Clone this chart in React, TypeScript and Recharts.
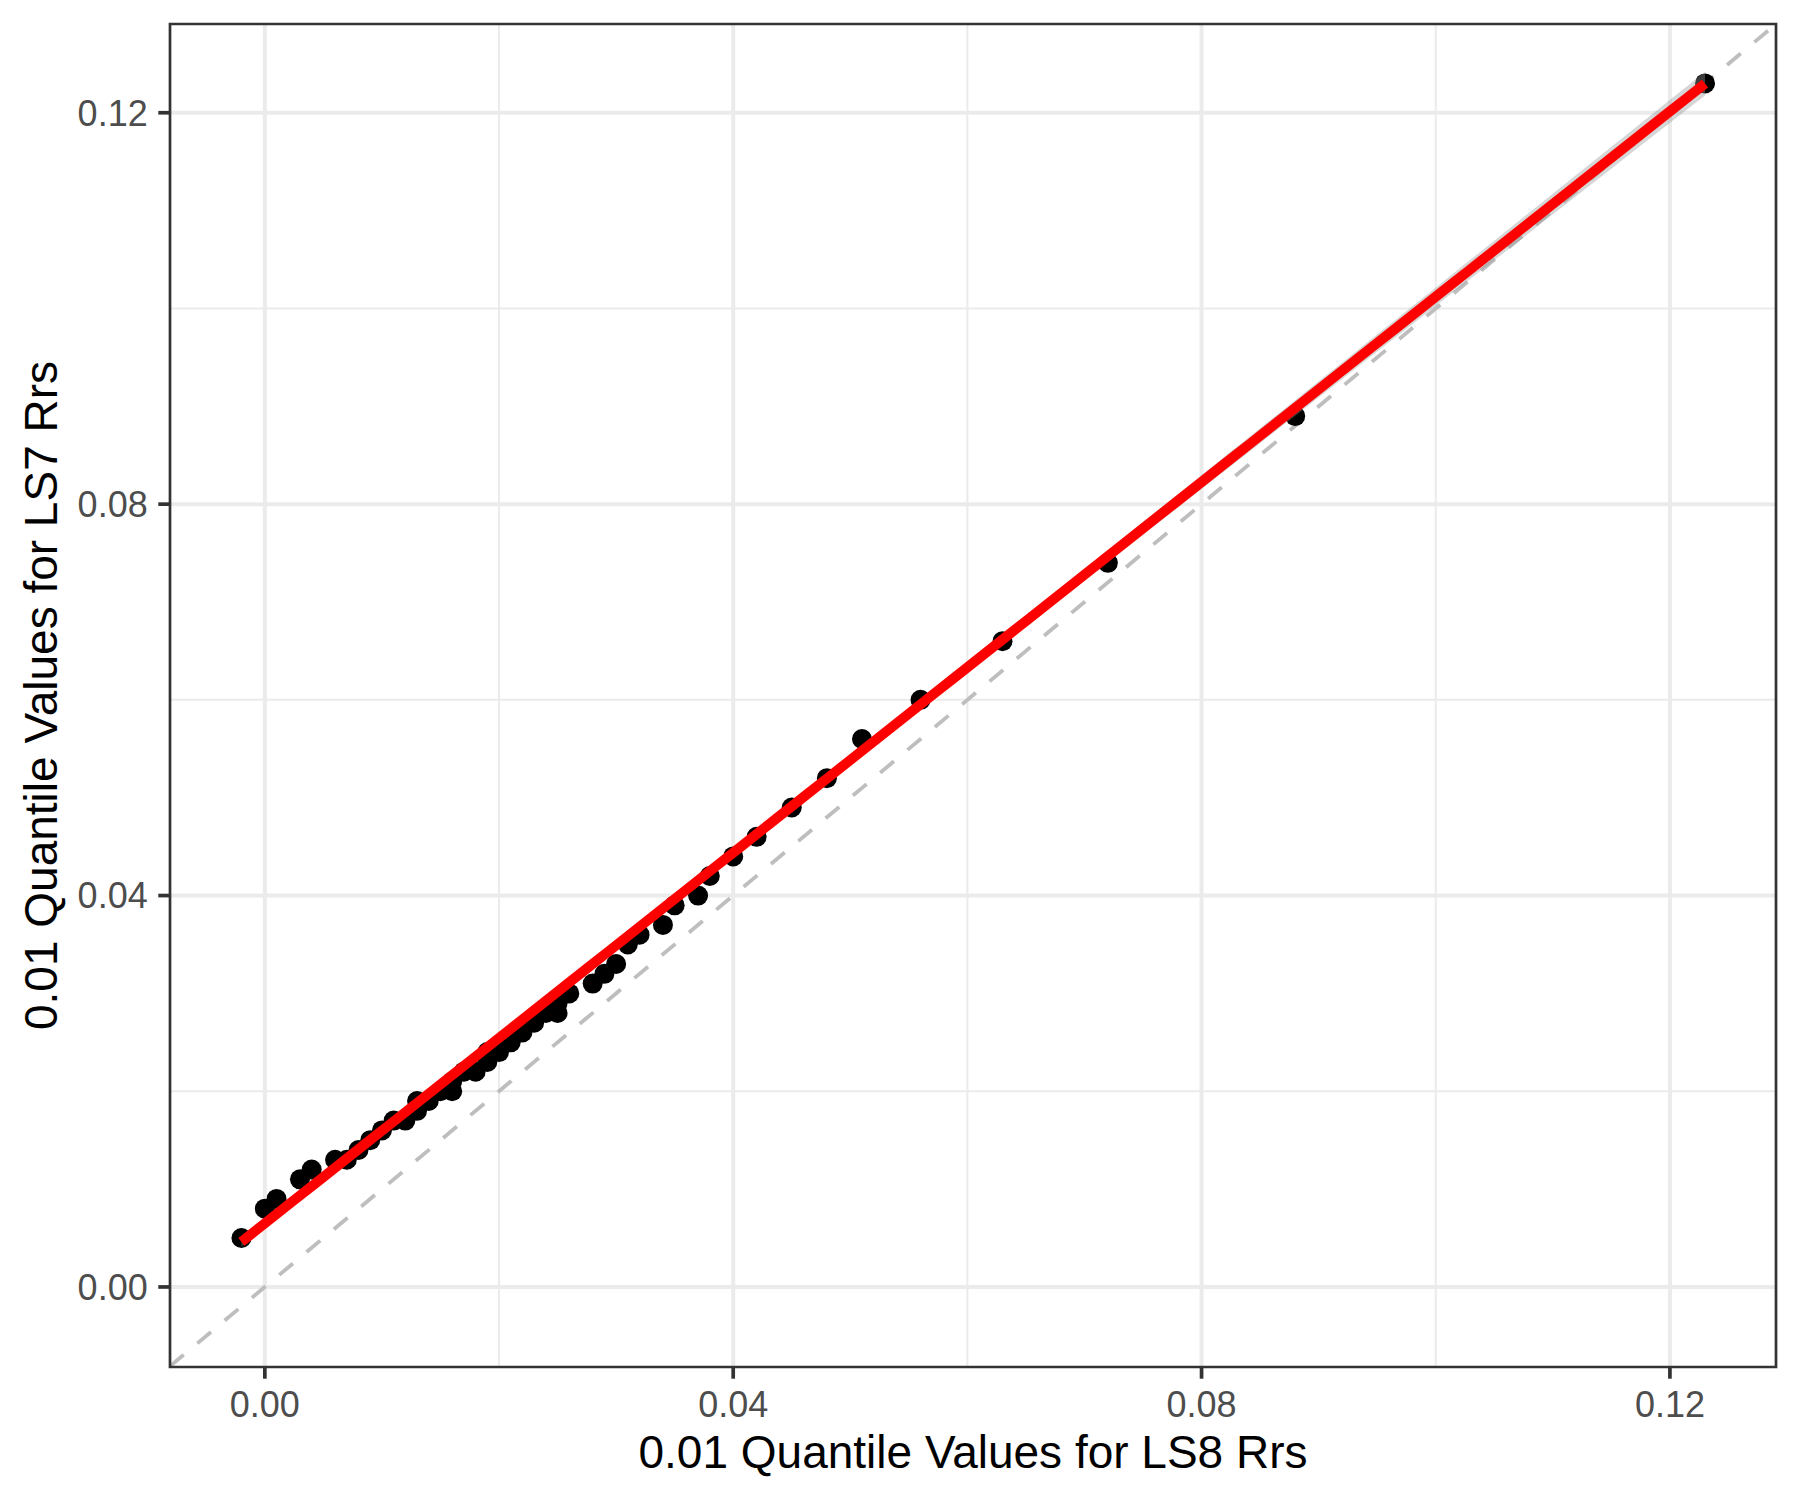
import React from 'react';
import {
  ComposedChart,
  XAxis,
  YAxis,
  Scatter,
  Line,
  Area,
  ReferenceLine,
  ReferenceArea,
  Label,
} from 'recharts';

// ---- Data ----
// x: 0.01 quantile values for LS8 Rrs, y: matching quantile values for LS7 Rrs
const ls8Quantiles = [
  -0.002, 0.0, 0.001, 0.003, 0.004, 0.006, 0.007, 0.008, 0.009, 0.01,
  0.011, 0.012, 0.013, 0.013, 0.014, 0.015, 0.016, 0.016, 0.017, 0.018,
  0.019, 0.019, 0.02, 0.021, 0.022, 0.023, 0.024, 0.025, 0.025, 0.026,
  0.028, 0.029, 0.03, 0.031, 0.032, 0.034, 0.035, 0.037, 0.038, 0.04,
  0.042, 0.045, 0.048, 0.051, 0.056, 0.063, 0.072, 0.088, 0.123,
];
const ls7Quantiles = [
  0.005, 0.008, 0.009, 0.011, 0.012, 0.013, 0.013, 0.014, 0.015, 0.016,
  0.017, 0.017, 0.018, 0.019, 0.019, 0.02, 0.02, 0.021, 0.022, 0.022,
  0.023, 0.024, 0.024, 0.025, 0.026, 0.027, 0.028, 0.028, 0.029, 0.03,
  0.031, 0.032, 0.033, 0.035, 0.036, 0.037, 0.039, 0.04, 0.042, 0.044,
  0.046, 0.049, 0.052, 0.056, 0.06, 0.066, 0.074, 0.089, 0.123,
];

// fitted line (geom_smooth, method = lm)
const fitIntercept = 0.0065;
const fitSlope = 0.947;
const tCrit = 2.0117; // t(0.975, df = n - 2)

const majorBreaks = [0, 0.04, 0.08, 0.12];
const minorBreaks = [0.02, 0.06, 0.1];
const xDomain: [number, number] = [-0.0081, 0.12906];
const yDomain: [number, number] = [-0.00818, 0.12907];

const xTitle = '0.01 Quantile Values for LS8 Rrs';
const yTitle = '0.01 Quantile Values for LS7 Rrs';

const FONT = '"Liberation Sans", Arial, Helvetica, sans-serif';

// ---- derived ----
const points = ls8Quantiles.map((x, i) => ({ x, y: ls7Quantiles[i] }));

const n = ls8Quantiles.length;
const xbar = ls8Quantiles.reduce((a, b) => a + b, 0) / n;
const ybar = ls7Quantiles.reduce((a, b) => a + b, 0) / n;
let sxx = 0;
let sxy = 0;
for (let i = 0; i < n; i++) {
  sxx += (ls8Quantiles[i] - xbar) ** 2;
  sxy += (ls8Quantiles[i] - xbar) * (ls7Quantiles[i] - ybar);
}
const bHat = sxy / sxx;
const aHat = ybar - bHat * xbar;
let sse = 0;
for (let i = 0; i < n; i++) {
  sse += (ls7Quantiles[i] - (aHat + bHat * ls8Quantiles[i])) ** 2;
}
const sigma = Math.sqrt(sse / (n - 2));

const xMin = Math.min(...ls8Quantiles);
const xMax = Math.max(...ls8Quantiles);
const fitData = Array.from({ length: 81 }, (_, i) => {
  const x = xMin + ((xMax - xMin) * i) / 80;
  const fit = fitIntercept + fitSlope * x;
  const se = sigma * Math.sqrt(1 / n + (x - xbar) ** 2 / sxx);
  return { x, fit, band: [fit - tCrit * se, fit + tCrit * se] };
});

const renderPoint = (props: any) => {
  const { cx, cy } = props;
  if (cx == null || cy == null) return <g />;
  return <circle cx={cx} cy={cy} r={10} fill="#000000" />;
};

const XTitle = (props: any) => {
  const vb = props.viewBox || { x: 170, y: 1367, width: 1606, height: 133 };
  return (
    <text
      x={vb.x + vb.width / 2}
      y={vb.y + 101}
      textAnchor="middle"
      fontSize={46}
      fontFamily={FONT}
      fill="#000000"
    >
      {xTitle}
    </text>
  );
};

const YTitle = (props: any) => {
  const vb = props.viewBox || { x: 0, y: 24, width: 170, height: 1343 };
  const cx = 56.7;
  const cy = vb.y + vb.height / 2;
  return (
    <text
      x={cx}
      y={cy}
      transform={`rotate(-90 ${cx} ${cy})`}
      textAnchor="middle"
      fontSize={46}
      fontFamily={FONT}
      fill="#000000"
    >
      {yTitle}
    </text>
  );
};

export default function App() {
  return (
    <div style={{ position: 'absolute', left: 0, top: 0, background: '#ffffff', fontFamily: FONT }}>
      <ComposedChart
        width={1800}
        height={1500}
        data={fitData}
        margin={{ top: 24, right: 24, bottom: 0, left: 0 }}
      >
        <XAxis
          type="number"
          dataKey="x"
          domain={xDomain}
          allowDataOverflow
          ticks={majorBreaks}
          tickFormatter={(v: number) => v.toFixed(2)}
          axisLine={false}
          tickLine={{ stroke: '#333333', strokeWidth: 3.7 }}
          tickSize={11.7}
          tickMargin={12.3}
          tick={{ fill: '#4D4D4D', fontSize: 36, fontFamily: FONT }}
          height={133}
          interval={0}
        >
          <Label content={<XTitle />} />
        </XAxis>
        <YAxis
          type="number"
          dataKey="y"
          domain={yDomain}
          allowDataOverflow
          ticks={majorBreaks}
          tickFormatter={(v: number) => v.toFixed(2)}
          axisLine={false}
          tickLine={{ stroke: '#333333', strokeWidth: 3.7 }}
          tickSize={11.7}
          tickMargin={10.6}
          tick={{ fill: '#4D4D4D', fontSize: 36, fontFamily: FONT }}
          width={170}
          interval={0}
        >
          <Label content={<YTitle />} />
        </YAxis>

        {minorBreaks.map((v) => (
          <ReferenceLine key={`mx${v}`} x={v} stroke="#EBEBEB" strokeWidth={2} zIndex={-100} />
        ))}
        {minorBreaks.map((v) => (
          <ReferenceLine key={`my${v}`} y={v} stroke="#EBEBEB" strokeWidth={2} zIndex={-100} />
        ))}
        {majorBreaks.map((v) => (
          <ReferenceLine key={`Mx${v}`} x={v} stroke="#EBEBEB" strokeWidth={4} zIndex={-100} />
        ))}
        {majorBreaks.map((v) => (
          <ReferenceLine key={`My${v}`} y={v} stroke="#EBEBEB" strokeWidth={4} zIndex={-100} />
        ))}

        <ReferenceLine
          segment={[
            { x: xDomain[0], y: xDomain[0] },
            { x: xDomain[1], y: xDomain[1] },
          ]}
          stroke="#BEBEBE"
          strokeWidth={3.8}
          strokeDasharray="17.8 17.8"
          ifOverflow="visible"
          zIndex={-50}
        />

        <Scatter
          data={points}
          dataKey="y"
          shape={renderPoint}
          isAnimationActive={false}
          zIndex={50}
        />

        <Area
          dataKey="band"
          type="linear"
          stroke="none"
          fill="#999999"
          fillOpacity={0.4}
          isAnimationActive={false}
          activeDot={false}
          dot={false}
          zIndex={60}
        />
        <Line
          dataKey="fit"
          type="linear"
          stroke="#FF0000"
          strokeWidth={10}
          dot={false}
          activeDot={false}
          isAnimationActive={false}
          strokeLinecap="butt"
          zIndex={70}
        />

        <ReferenceArea
          x1={xDomain[0]}
          x2={xDomain[1]}
          y1={yDomain[0]}
          y2={yDomain[1]}
          fill="none"
          fillOpacity={0}
          stroke="#333333"
          strokeWidth={2.7}
          ifOverflow="visible"
          zIndex={80}
        />
      </ComposedChart>
    </div>
  );
}
